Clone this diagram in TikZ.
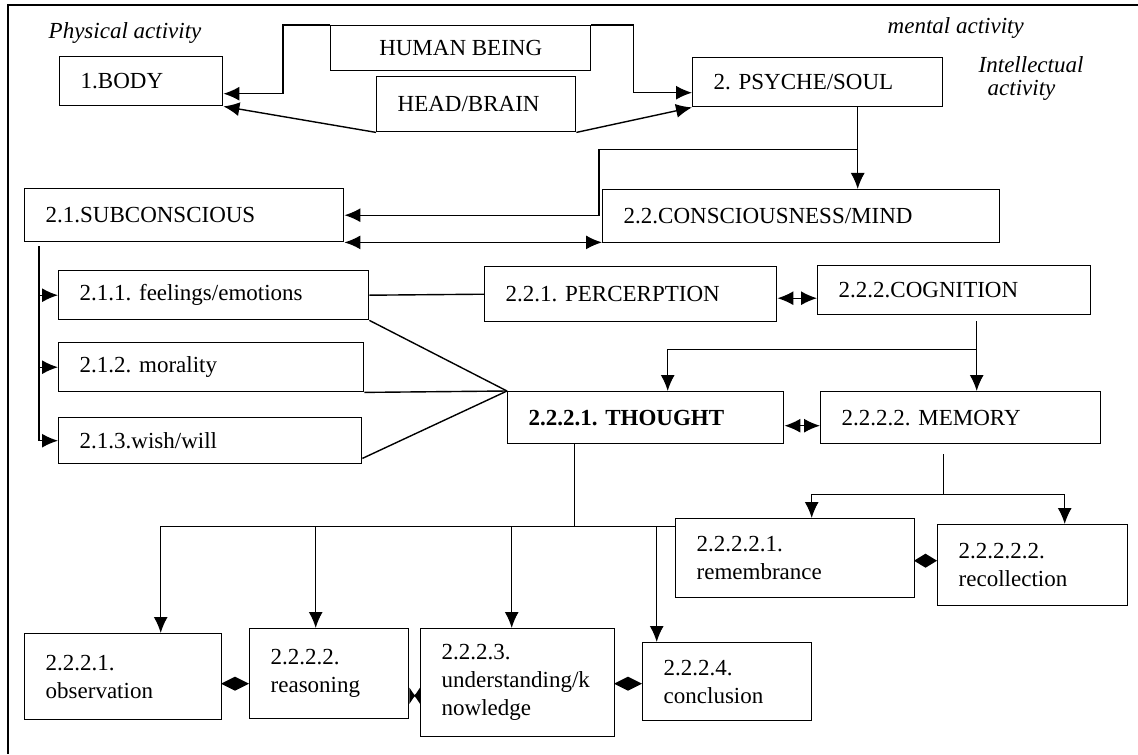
\documentclass[tikz,border=0pt]{standalone}
\usepackage{fontspec}
\setmainfont{Liberation Serif}
\usetikzlibrary{arrows.meta, calc, positioning}
\frenchspacing
\tikzset{
	every node/.style={
		font=\fontsize{11.5}{14}\selectfont
	},
	caja/.style 2 args={
		shape=rectangle,
		draw,
		anchor=north west,
		inner xsep=10.5pt,
		inner ysep=0pt,
		text width=#1,
		minimum height=#2,
		align=left
	},
	rotulo/.style={
		anchor=west,
		inner sep=0pt,
		font=\fontsize{11.5}{14}\selectfont\itshape
	},
	rombo/.style={
		arrows={-Diamond[length=#1,width=7pt]}
	},
	lazo/.style={
		arrows={Latex[reversed,length=3pt,width=9pt]-Latex[reversed,length=3pt,width=9pt]}
	}
}
\begin{document}
\begin{tikzpicture}[x=0.5pt,y=-0.5pt,line width=0.7pt,>={Latex[length=8pt,width=7pt]}]
  \useasboundingbox (0,0) rectangle (1138,754);
  \draw[line width=0.9pt] (1138,5) -- (8,5) -- (8,754);

  % labels
  \node[rotulo] (fisica)  at (48,33)  {Physical activity};
  \node[rotulo] (mental)  at (887,28) {mental activity};
  \node[rotulo] (intel1)  at (978,65) {Intellectual};
  \node[rotulo] (intel2)  at (987,90) {activity};

  % top
  \node[draw, anchor=north west, minimum width=130pt, minimum height=22.5pt, inner sep=0pt] (ser) at (330,25) {HUMAN BEING};
  \node[caja={78.5pt}{27.5pt}]  (brain)   at (376,76)  {HEAD/BRAIN};
  \node[caja={60.5pt}{24.5pt}]  (body)    at (59,56)   {1.BODY};
  \node[caja={104pt}{24.5pt}]   (psyche)  at (692,57)  {2. PSYCHE/SOUL};

  % second level
  \node[caja={138.5pt}{26.5pt}] (sub)     at (24,188)  {2.1.SUBCONSCIOUS};
  \node[caja={177.5pt}{26.5pt}] (mind)    at (602,189) {2.2.CONSCIOUSNESS/MIND};
  \node[caja={134pt}{24.5pt}]   (feel)    at (58,270)  {2.1.1. feelings/emotions};
  \node[caja={131.5pt}{24.5pt}] (moral)   at (58,342)  {2.1.2. morality};
  \node[caja={130.5pt}{23pt}]   (wish)    at (58,417)  {2.1.3.wish/will};
  \node[caja={125pt}{27.5pt}]   (perc)    at (484,266) {2.2.1. PERCERPTION};
  \node[caja={115.5pt}{24.5pt}] (cog)     at (817,265) {2.2.2.COGNITION};
  \node[caja={117pt}{26pt}]     (thought) at (507,391) {\bfseries 2.2.2.1. THOUGHT};
  \node[caja={119pt}{26pt}]     (mem)     at (820,391) {2.2.2.2. MEMORY};

  % bottom
  \node[caja={98.5pt}{39.5pt}]  (remb)    at (675,518) {2.2.2.2.1.\\remembrance};
  \node[caja={74pt}{40.5pt}]    (recoll)  at (937,524) {2.2.2.2.2.\\recollection};
  \node[caja={77.5pt}{43pt}]    (obs)     at (24,633)  {2.2.2.1.\\observation};
  \node[caja={58.5pt}{45pt}]    (reas)    at (249,628) {2.2.2.2.\\reasoning};
  \node[caja={76pt}{54pt}]      (und)     at (420,628) {2.2.2.3.\\understanding/k\\nowledge};
  \node[caja={63.5pt}{39pt}]    (concl)   at (642,642) {2.2.2.4.\\conclusion};

  % human being
  \draw[->] (ser.north west) -- ++(-47,0) |- ([yshift=-6.25pt]body.east);
  \draw[->] (ser.north east) -- ++(42,0) |- ([yshift=-5.25pt]psyche.west);
  \draw[->] (brain.south west) -- (body.south east);
  \draw[->] (brain.south east) -- (psyche.south west);

  % psyche
  \coordinate (psysplit) at ($(psyche.south)+(40,42)$);
  \draw[->] (psyche.south -| psysplit) -- (psysplit |- mind.north);
  \draw[->] (psysplit) -| ([xshift=-1.5pt]mind.north west) |- (sub.east);
  \draw[<->] (sub.south east) -- (sub.south east -| mind.west);

  % subconscious
  \coordinate (subtrunk) at ($(sub.south west)+(15,4)$);
  \foreach \hijo in {feel, moral, wish}
    \draw[->] (subtrunk) |- (\hijo.west);
  \draw (feel.east) -- (perc.west);
  \draw (feel.south east) -- (thought.north west);
  \draw (moral.south east) -- (thought.north west);
  \draw ([yshift=3pt]wish.south east) -- (thought.north west);

  % consciousness
  \draw[<->] ([yshift=-2pt]perc.east) -- ([yshift=-2pt]perc.east -| cog.west);
  \coordinate (cogtop) at ($(cog.south)+(22.5,6)$);
  \coordinate (cogsplit) at ($(cogtop)+(0,28)$);
  \draw[->] (cogtop) -- (cogtop |- mem.north);
  \draw[->] (cogsplit) -| ([xshift=11pt]thought.north);
  \draw[<->] ([yshift=-4pt]thought.east) -- ([yshift=-4pt]thought.east -| mem.west);

  % thought
  \coordinate (thtrunk) at ($(thought.south)+(-71,82)$);
  \draw (thought.south -| thtrunk) -- (thtrunk);
  \draw ($(obs.north |- thtrunk)+(37.5,0)$) -- (thtrunk -| remb.west);
  \foreach \hijo/\dx in {obs/37.5, reas/-13.5, und/-6, concl/-70.5}
    \draw[->] ($(\hijo.north |- thtrunk)+(\dx,0)$) -- ($(\hijo.north)+(\dx,0)$);

  % memory
  \coordinate (memtrunk) at ($(mem.south)+(-17,10)$);
  \coordinate (memsplit) at ($(memtrunk)+(0,40)$);
  \draw (memtrunk) -- (memsplit);
  \draw[->] (memsplit) -| ($(remb.north)+(16.5,0)$);
  \draw[->] (memsplit) -| ($(recoll.north)+(32,0)$);

  % links in the bottom rows
  \draw[rombo=14pt] ([yshift=-3.5pt]obs.east) -- ([yshift=-3.5pt]obs.east -| reas.west);
  \draw[lazo] ([yshift=-11pt]reas.east) -- ([yshift=-11pt]reas.east -| und.west);
  \draw[rombo=14pt] ([yshift=-0.5pt]und.east) -- ([yshift=-0.5pt]und.east -| concl.west);
  \draw[rombo=11.5pt] ([yshift=-1.25pt]remb.east) -- ([yshift=-1.25pt]remb.east -| recoll.west);
\end{tikzpicture}
\end{document}
